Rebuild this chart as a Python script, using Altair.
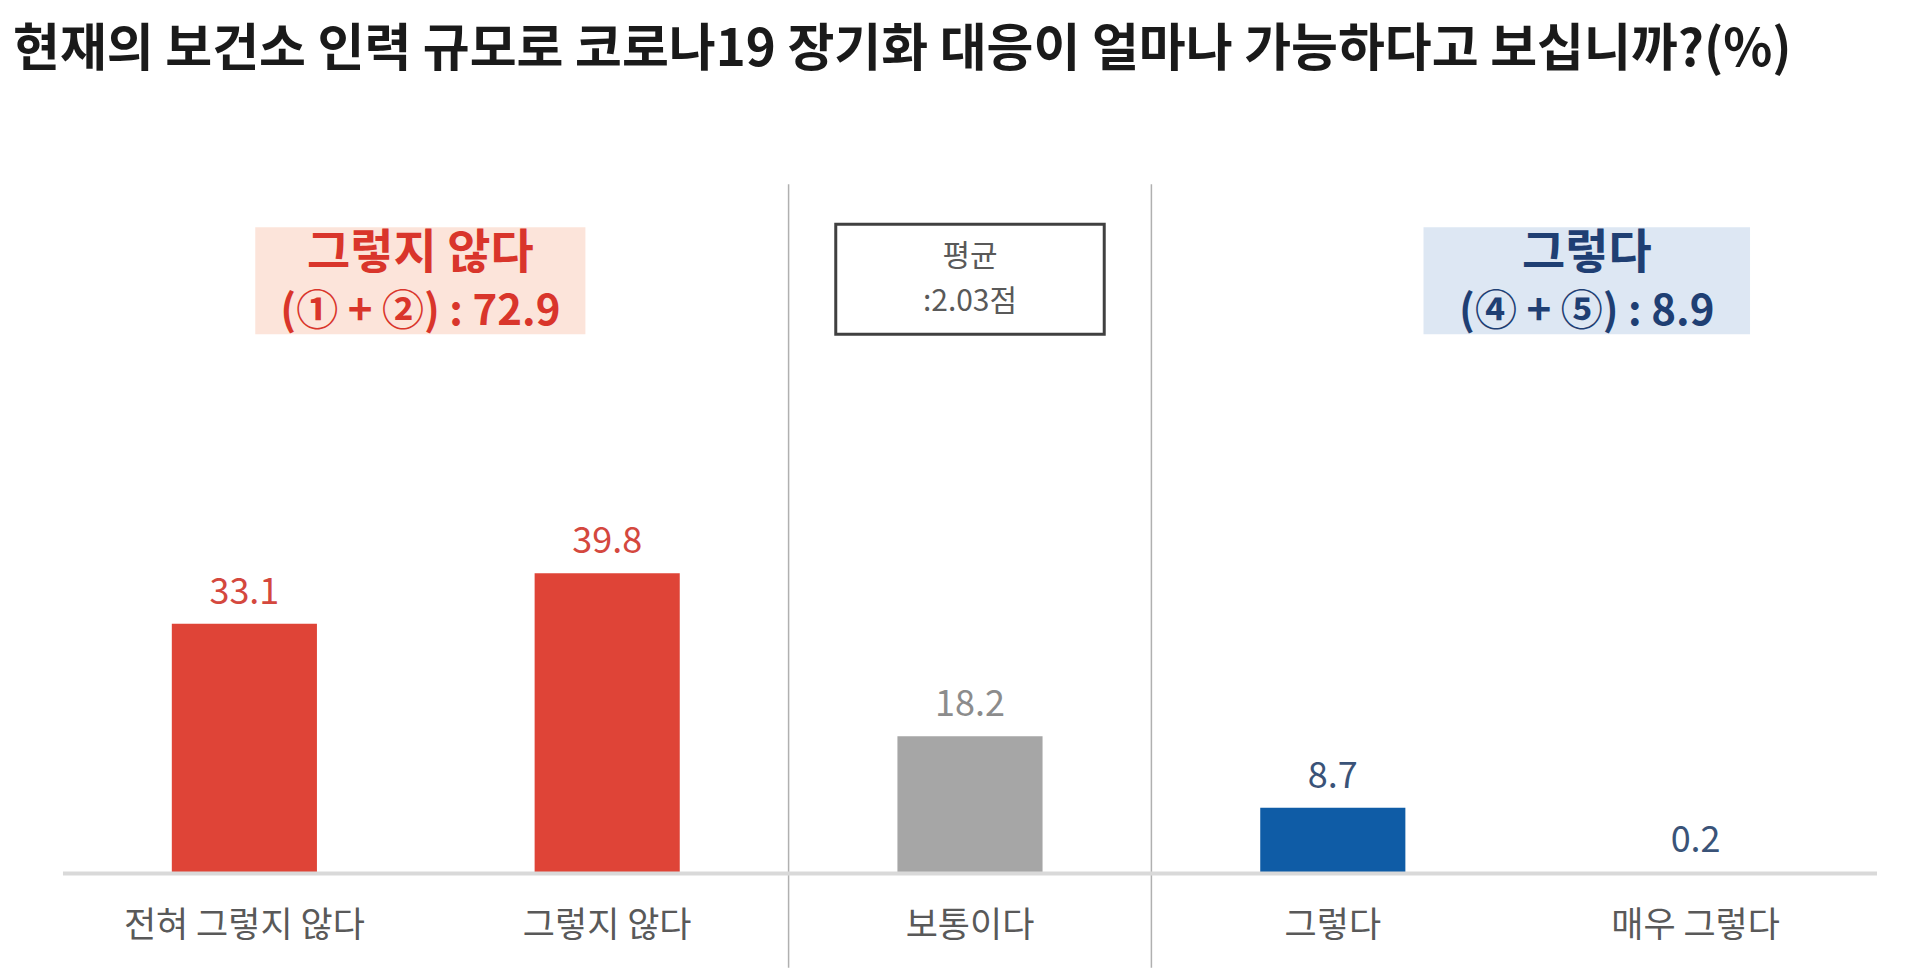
import pandas as pd
import altair as alt

FONT = "Noto Sans CJK KR"

TITLE = "현재의 보건소 인력 규모로 코로나19 장기화 대응이 얼마나 가능하다고 보십니까?(%)"

categories = ["전혀 그렇지 않다", "그렇지 않다", "보통이다", "그렇다", "매우 그렇다"]
percents = [33.1, 39.8, 18.2, 8.7, 0.2]
sides = ["부정", "부정", "보통", "긍정", "긍정"]

box_sides = ["부정", "보통", "긍정"]
box_heads = ["그렇지 않다", "평균", "그렇다"]
box_lines = ["(① + ②) : 72.9", ":2.03점", "(④ + ⑤) : 8.9"]

SIDE_ORDER = ["부정", "보통", "긍정"]
BAR_COLORS = ["#DF4437", "#A6A6A6", "#0F5CA6"]
VALUE_COLORS = ["#D4483E", "#8C8C8C", "#3A5378"]
BOX_FILLS = ["#FCE4DA", "#FFFFFF", "#DDE7F3"]
BOX_TEXT = ["#D9352B", "#595959", "#1F3F73"]

# box layout in data units (x: category index, y: percent)
BOX_LAYOUT = {
    "부정": dict(x0=0.03, x1=0.94, xc=0.485, y0=71.5, y1=85.7, yh=82.2, yl=74.4),
    "보통": dict(x0=1.63, x1=2.37, xc=2.0, y0=71.5, y1=86.1, yh=81.7, yl=75.8),
    "긍정": dict(x0=3.25, x1=4.15, xc=3.70, y0=71.5, y1=85.7, yh=82.2, yl=74.4),
}

BAR_HALF = 0.2
X_DOMAIN = [-0.5, len(categories) - 0.5]
Y_DOMAIN = [-12.5, 91.4]

bars_df = pd.DataFrame({"cat": categories, "pct": percents, "side": sides})
bars_df["idx"] = range(len(categories))
bars_df["x0"] = bars_df["idx"] - BAR_HALF
bars_df["x1"] = bars_df["idx"] + BAR_HALF

box_df = pd.DataFrame({"side": box_sides, "head": box_heads, "line": box_lines})
for key in ["x0", "x1", "xc", "y0", "y1", "yh", "yl"]:
    box_df[key] = [BOX_LAYOUT[s][key] for s in box_sides]

# separators where the answer side changes
seps = [i + 0.5 for i in range(len(sides) - 1) if sides[i] != sides[i + 1]]
sep_df = pd.DataFrame({"x": seps})

XS = alt.Scale(domain=X_DOMAIN, nice=False, zero=False)
YS = alt.Scale(domain=Y_DOMAIN, nice=False, zero=False)


def X(field):
    return alt.X(field, scale=XS, axis=None)


def Y(field):
    return alt.Y(field, scale=YS, axis=None)


bar_color = alt.Color("side:N", scale=alt.Scale(domain=SIDE_ORDER, range=BAR_COLORS), legend=None)

bars = alt.Chart(bars_df).mark_bar().encode(
    x=X("x0:Q"), x2="x1:Q", y=Y("pct:Q"), y2=alt.datum(0), color=bar_color
)

baseline = alt.Chart(pd.DataFrame({"a": [0]})).mark_rule(
    color="#D9D9D9", strokeWidth=4
).encode(x=alt.X(datum=X_DOMAIN[0], scale=XS, axis=None), x2=alt.datum(X_DOMAIN[1]),
         y=alt.Y(datum=0, scale=YS, axis=None))

separators = alt.Chart(sep_df).mark_rule(color="#B0B0B0", strokeWidth=1.5).encode(
    x=X("x:Q"), y=alt.Y(datum=Y_DOMAIN[1], scale=YS, axis=None), y2=alt.datum(Y_DOMAIN[0])
)

value_labels = alt.Chart(bars_df).mark_text(
    font=FONT, fontSize=36, baseline="alphabetic", dy=-20
).encode(
    x=X("idx:Q"), y=Y("pct:Q"), text=alt.Text("pct:Q", format=".1f"),
    color=alt.Color("side:N", scale=alt.Scale(domain=SIDE_ORDER, range=VALUE_COLORS), legend=None),
)

cat_labels = alt.Chart(bars_df).mark_text(
    font=FONT, fontSize=35, color="#595959", baseline="middle"
).encode(x=X("idx:Q"), y=alt.Y(datum=-7, scale=YS, axis=None), text="cat:N")

side_boxes = alt.Chart(box_df).transform_filter("datum.side != '보통'").mark_rect().encode(
    x=X("x0:Q"), x2="x1:Q", y=Y("y0:Q"), y2="y1:Q",
    fill=alt.Fill("side:N", scale=alt.Scale(domain=SIDE_ORDER, range=BOX_FILLS), legend=None),
)

mean_box = alt.Chart(box_df).transform_filter("datum.side == '보통'").mark_rect(
    fill="#FFFFFF", stroke="#404040", strokeWidth=3
).encode(x=X("x0:Q"), x2="x1:Q", y=Y("y0:Q"), y2="y1:Q")

box_text_color = alt.Color("side:N", scale=alt.Scale(domain=SIDE_ORDER, range=BOX_TEXT), legend=None)

side_heads = alt.Chart(box_df).transform_filter("datum.side != '보통'").mark_text(
    font=FONT, fontSize=47, fontWeight="bold", baseline="middle"
).encode(x=X("xc:Q"), y=Y("yh:Q"), text="head:N", color=box_text_color)

side_lines = alt.Chart(box_df).transform_filter("datum.side != '보통'").mark_text(
    font=FONT, fontSize=42, fontWeight="bold", baseline="middle"
).encode(x=X("xc:Q"), y=Y("yl:Q"), text="line:N", color=box_text_color)

mean_heads = alt.Chart(box_df).transform_filter("datum.side == '보통'").mark_text(
    font=FONT, fontSize=30, color="#595959", baseline="middle"
).encode(x=X("xc:Q"), y=Y("yh:Q"), text="head:N")

mean_lines = alt.Chart(box_df).transform_filter("datum.side == '보통'").mark_text(
    font=FONT, fontSize=30, color="#595959", baseline="middle"
).encode(x=X("xc:Q"), y=Y("yl:Q"), text="line:N")

chart = (
    alt.layer(
        separators, bars, baseline, value_labels, cat_labels,
        side_boxes, mean_box, side_heads, side_lines, mean_heads, mean_lines,
    )
    .resolve_scale(color="independent")
    .properties(
        width=1815, height=784,
        padding={"left": 55, "top": 176, "right": 35, "bottom": 0},
        autosize=alt.AutoSizeParams(type="none"),
        title=alt.TitleParams(
            TITLE, anchor="start", dx=-48, offset=106,
            font=FONT, fontSize=51, fontWeight="bold", color="#1A1A1A",
        ),
    )
    .configure_view(strokeWidth=0)
)

chart.save("out.html", embed_options={"renderer": "svg", "actions": False})
